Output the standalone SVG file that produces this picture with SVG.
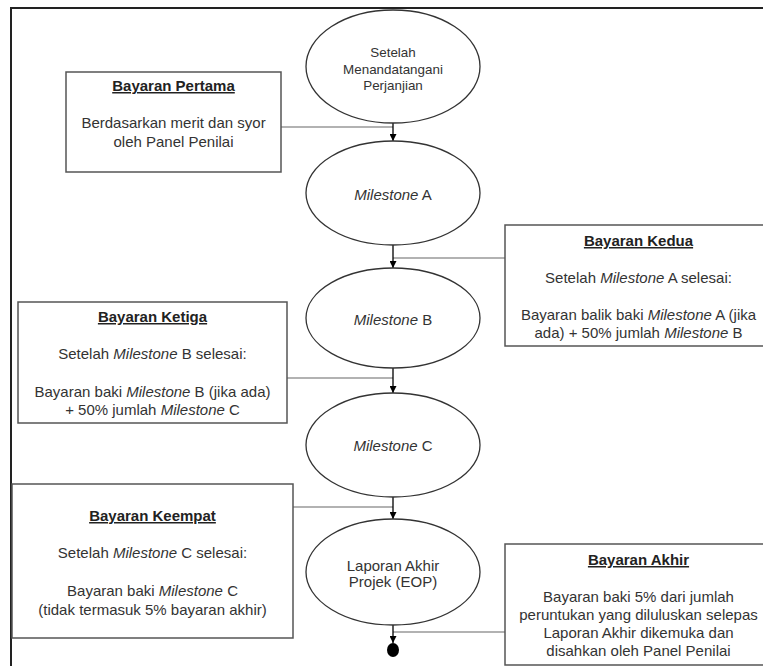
<svg xmlns="http://www.w3.org/2000/svg" width="763" height="666" viewBox="0 0 763 666">
<style>
.t{font-family:"Liberation Sans",Arial,sans-serif;font-size:15px;fill:#333;text-anchor:middle}
.s{font-size:13.4px}
.h{font-weight:bold;fill:#222;text-decoration:underline}
.i{font-style:italic}
.box{fill:#fff;stroke:#555;stroke-width:1.5}
.ell{fill:#fff;stroke:#333;stroke-width:1.3}
.con{stroke:#999;stroke-width:1.5;fill:none}
.arr{stroke:#000;stroke-width:1.3;fill:none;marker-end:url(#ah)}
</style>
<defs>
<marker id="ah" viewBox="0 0 10 10" refX="10" refY="5" markerWidth="7" markerHeight="7" markerUnits="userSpaceOnUse" orient="auto">
<path d="M0,0 L10,5 L0,10 z" fill="#000"/>
</marker>
</defs>
<rect width="763" height="666" fill="#fff"/>
<g id="frame"><path d="M11,666 L11,8 L763,8" fill="none" stroke="#222" stroke-width="2"/></g>
<g id="connectors">
<line class="con" x1="281" y1="127" x2="393" y2="127"/>
<line class="con" x1="393" y1="258" x2="505" y2="258"/>
<line class="con" x1="287" y1="378" x2="393" y2="378"/>
<line class="con" x1="293" y1="507" x2="393" y2="507"/>
<line class="con" x1="393" y1="632" x2="505" y2="632"/>
<line class="arr" x1="393" y1="123" x2="393" y2="141"/>
<line class="arr" x1="393" y1="245" x2="393" y2="268"/>
<line class="arr" x1="393" y1="368" x2="393" y2="393"/>
<line class="arr" x1="393" y1="497" x2="393" y2="519"/>
<line class="arr" x1="393" y1="625" x2="393" y2="643"/>
</g>
<g id="n-start">
<ellipse class="ell" cx="393" cy="66.5" rx="87" ry="56.5"/>
<text class="t s" x="393" y="56.5">Setelah</text>
<text class="t s" x="393" y="73.5">Menandatangani</text>
<text class="t s" x="393" y="89.5">Perjanjian</text>
</g>
<g id="n-msA">
<ellipse class="ell" cx="393" cy="193" rx="87" ry="52"/>
<text class="t" x="393" y="200"><tspan class="i">Milestone</tspan> A</text>
</g>
<g id="n-msB">
<ellipse class="ell" cx="393" cy="318" rx="87" ry="50"/>
<text class="t" x="393" y="325"><tspan class="i">Milestone</tspan> B</text>
</g>
<g id="n-msC">
<ellipse class="ell" cx="393" cy="445" rx="87" ry="52"/>
<text class="t" x="393" y="451"><tspan class="i">Milestone</tspan> C</text>
</g>
<g id="n-eop">
<ellipse class="ell" cx="393" cy="572" rx="87" ry="53"/>
<text class="t" x="393" y="571">Laporan Akhir</text>
<text class="t" x="393" y="587">Projek (EOP)</text>
</g>
<g id="n-end">
<ellipse cx="393" cy="650" rx="6" ry="7" fill="#000"/>
</g>
<g id="b-pertama">
<rect class="box" x="66" y="72" width="215" height="100"/>
<text class="t h" x="173.5" y="91">Bayaran Pertama</text>
<text class="t" x="173.5" y="128">Berdasarkan merit dan syor</text>
<text class="t" x="173.5" y="147">oleh Panel Penilai</text>
</g>
<g id="b-kedua">
<rect class="box" x="505" y="225" width="267" height="121"/>
<text class="t h" x="638.5" y="246">Bayaran Kedua</text>
<text class="t" x="638.5" y="283">Setelah <tspan class="i">Milestone</tspan> A selesai:</text>
<text class="t" x="638.5" y="320">Bayaran balik baki <tspan class="i">Milestone</tspan> A (jika</text>
<text class="t" x="638.5" y="338">ada) + 50% jumlah <tspan class="i">Milestone</tspan> B</text>
</g>
<g id="b-ketiga">
<rect class="box" x="18" y="302" width="269" height="121"/>
<text class="t h" x="152.5" y="322">Bayaran Ketiga</text>
<text class="t" x="152.5" y="359">Setelah <tspan class="i">Milestone</tspan> B selesai:</text>
<text class="t" x="152.5" y="397">Bayaran baki <tspan class="i">Milestone</tspan> B (jika ada)</text>
<text class="t" x="152.5" y="415">+ 50% jumlah <tspan class="i">Milestone</tspan> C</text>
</g>
<g id="b-keempat">
<rect class="box" x="12" y="484" width="281" height="154"/>
<text class="t h" x="152.5" y="521">Bayaran Keempat</text>
<text class="t" x="152.5" y="558">Setelah <tspan class="i">Milestone</tspan> C selesai:</text>
<text class="t" x="152.5" y="596">Bayaran baki <tspan class="i">Milestone</tspan> C</text>
<text class="t" x="152.5" y="615">(tidak termasuk 5% bayaran akhir)</text>
</g>
<g id="b-akhir">
<rect class="box" x="505" y="544" width="267" height="121"/>
<text class="t h" x="638.5" y="565">Bayaran Akhir</text>
<text class="t" x="638.5" y="602">Bayaran baki 5% dari jumlah</text>
<text class="t" x="638.5" y="620">peruntukan yang diluluskan selepas</text>
<text class="t" x="638.5" y="638">Laporan Akhir dikemuka dan</text>
<text class="t" x="638.5" y="656">disahkan oleh Panel Penilai</text>
</g>
</svg>
